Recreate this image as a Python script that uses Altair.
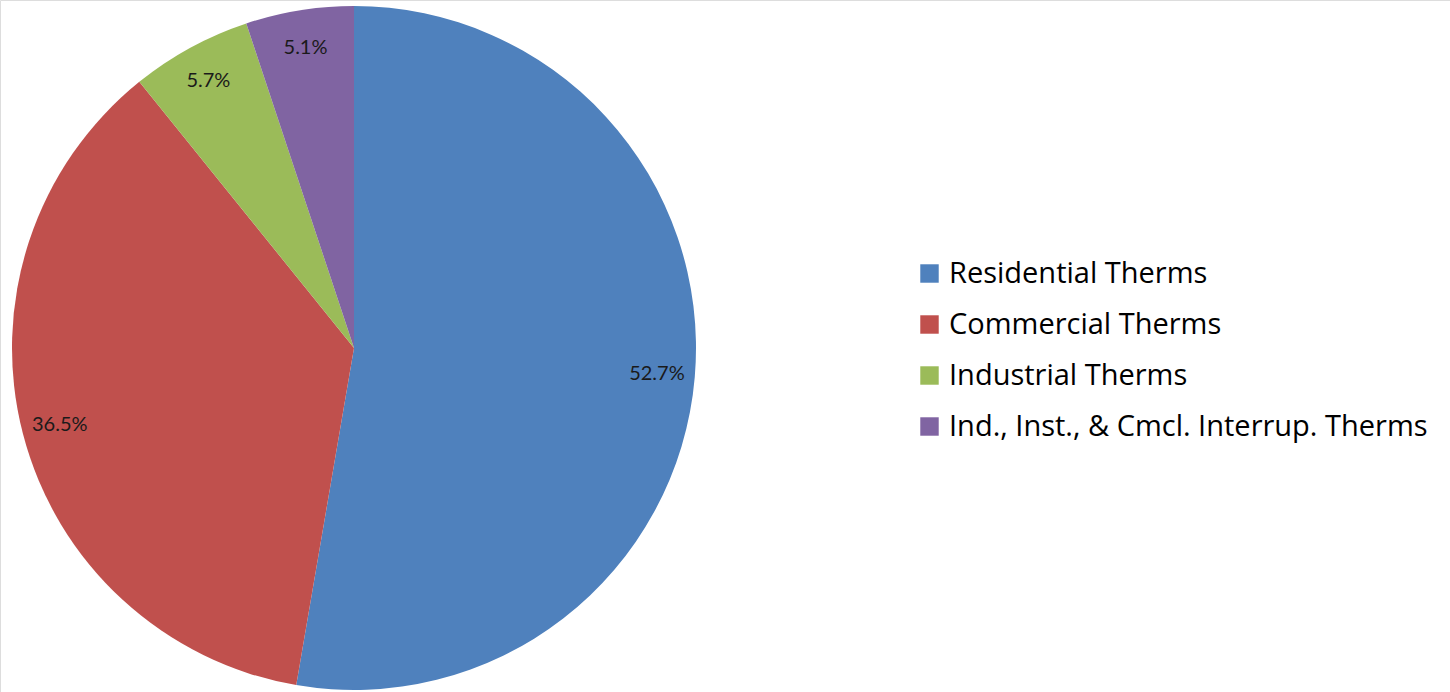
import altair as alt
import pandas as pd

categories = ["Residential Therms", "Commercial Therms", "Industrial Therms",
              "Ind., Inst., & Cmcl. Interrup. Therms"]
shares = [52.7, 36.5, 5.7, 5.1]
labels = ["52.7%", "36.5%", "5.7%", "5.1%"]
colors = ["#4F81BD", "#C0504D", "#9BBB59", "#8064A2"]

df = pd.DataFrame({"category": categories, "share": shares, "label": labels,
                   "order": list(range(len(categories)))})

base = alt.Chart(df).encode(
    theta=alt.Theta("share:Q", stack=True),
    order=alt.Order("order:Q"),
    x=alt.value(354),
    y=alt.value(348),
)

arcs = base.mark_arc(outerRadius=342).encode(
    color=alt.Color("category:N", sort=categories,
                    scale=alt.Scale(domain=categories, range=colors),
                    legend=alt.Legend(title=None, orient="none", legendX=915, legendY=259,
                                      symbolType="square", symbolSize=340,
                                      symbolStrokeWidth=0, labelFont="Open Sans",
                                      labelFontSize=29, labelColor="#000000",
                                      rowPadding=21, labelOffset=5,
                                      labelLimit=600))
)

text = base.mark_text(radius=304, font="Lato", fontSize=20, color="#1a1a1a").encode(
    text="label:N"
)

chart = (arcs + text).properties(
    width=1450, height=692, padding=0,
    autosize=alt.AutoSizeParams(type="none"),
).configure_view(stroke=None).configure(background="white")

chart.save("out.html", embed_options={"renderer": "svg", "actions": False})
